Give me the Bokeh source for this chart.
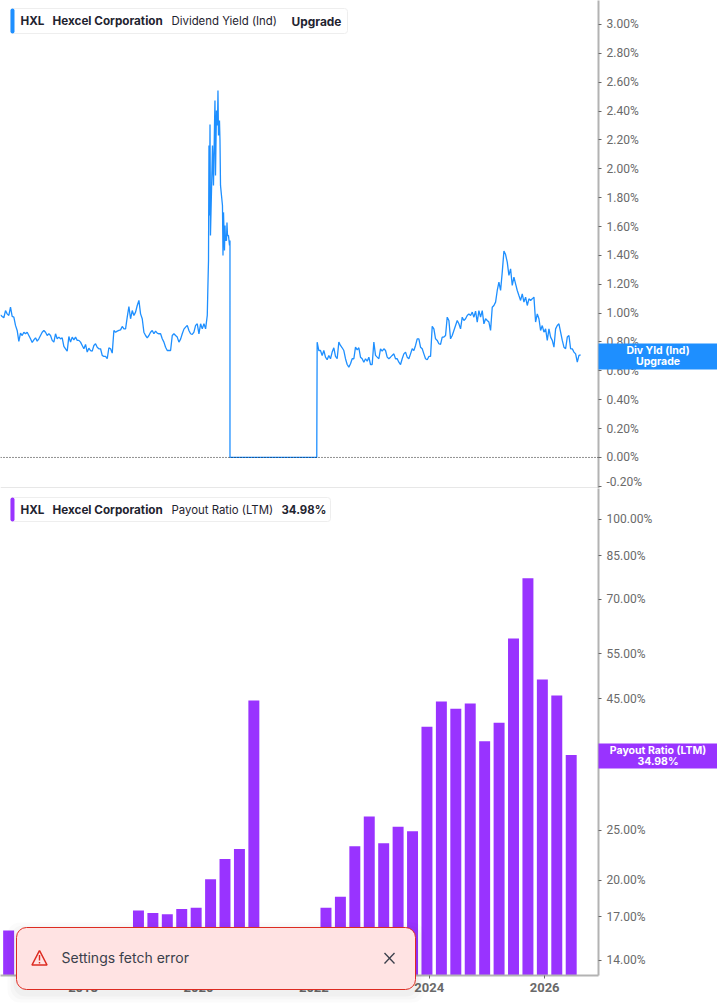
from bokeh.embed import file_html
from bokeh.layouts import column
from bokeh.models import BoxAnnotation, FixedTicker, Label, LinearAxis, LogAxis, PolyAnnotation, PrintfTickFormatter, Range1d, Span
from bokeh.plotting import figure
from bokeh.resources import INLINE
import numpy as np

# dividend yield (%), about every 10 days
yield_start = 2016.569
yield_step = 0.0289
yield_before = [
    0.988, 0.977, 0.968, 1.018, 0.995, 0.984, 1.042, 0.977, 0.972, 0.915, 0.880, 0.804, 0.861, 0.845, 0.868, 0.857,
    0.868, 0.845, 0.822, 0.797, 0.815, 0.829, 0.806, 0.822, 0.845, 0.868, 0.880, 0.868, 0.845, 0.857, 0.845, 0.811,
    0.799, 0.857, 0.822, 0.834, 0.822, 0.829, 0.769, 0.753, 0.737, 0.838, 0.799, 0.834, 0.815, 0.834, 0.811, 0.811,
    0.799, 0.776, 0.753, 0.783, 0.730, 0.757, 0.741, 0.737, 0.776, 0.788, 0.764, 0.753, 0.753, 0.707, 0.700, 0.700,
    0.684, 0.760, 0.753, 0.723, 0.880, 0.868, 0.875, 0.880, 0.884, 0.908, 0.891, 0.891, 0.972, 1.046, 0.961, 1.018,
    0.984, 1.007, 1.053, 1.088, 0.995, 0.961, 0.868, 0.845, 0.829, 0.845, 0.868, 0.880, 0.857, 0.875, 0.861, 0.857,
    0.857, 0.822, 0.799, 0.764, 0.741, 0.741, 0.741, 0.845, 0.857, 0.845, 0.834, 0.799, 0.820, 0.857, 0.889, 0.903,
    0.915, 0.880, 0.857, 0.852, 0.868, 0.915, 0.926, 0.857, 0.926, 0.891, 0.926, 0.891, 0.984,
]
# 2020 spike, then the stretch with no dividend
spike_years = [
    2020.162, 2020.174, 2020.182, 2020.191, 2020.200, 2020.208, 2020.226, 2020.243, 2020.260, 2020.278, 2020.286,
    2020.295, 2020.312, 2020.330, 2020.338, 2020.347, 2020.364, 2020.373, 2020.382, 2020.399, 2020.416, 2020.425,
    2020.434, 2020.451, 2020.460, 2020.468, 2020.486, 2020.494, 2020.503, 2020.520, 2020.538, 2020.546, 2020.546,
    2022.050,
]
spike_values = [
    1.157, 1.365, 2.162, 1.677, 2.307, 1.538, 1.850, 2.162, 1.885, 2.300, 2.473,
    1.954, 2.404, 2.300, 2.543, 2.231, 2.335, 2.196, 1.885, 1.815, 1.746, 1.400,
    1.698, 1.434, 1.607, 1.504, 1.504, 1.628, 1.538, 1.538, 1.469, 1.504, 0.0,
    0.0,
]
yield_after_start = 2022.057
yield_after = [
    0.799, 0.741, 0.741, 0.707, 0.741, 0.695, 0.677, 0.707, 0.684, 0.730, 0.760, 0.700, 0.684, 0.799, 0.776, 0.760,
    0.741, 0.684, 0.644, 0.626, 0.649, 0.684, 0.684, 0.764, 0.746, 0.760, 0.695, 0.684, 0.660, 0.684, 0.667, 0.695,
    0.644, 0.644, 0.799, 0.707, 0.695, 0.684, 0.753, 0.737, 0.753, 0.741, 0.695, 0.684, 0.695, 0.707, 0.718, 0.684,
    0.684, 0.660, 0.644, 0.684, 0.718, 0.730, 0.695, 0.684, 0.718, 0.753, 0.741, 0.776, 0.822, 0.822, 0.764, 0.753,
    0.718, 0.684, 0.677, 0.700, 0.700, 0.908, 0.891, 0.822, 0.811, 0.788,
    0.783, 0.834, 0.834, 0.845, 0.972, 0.949, 0.822, 0.845, 0.880, 0.914, 0.949, 0.926, 0.891, 0.972, 0.949, 0.961,
    0.984, 0.995, 0.984, 1.007, 0.972, 1.014, 0.938, 1.018, 0.972, 1.018, 0.926, 0.961, 0.949, 0.938, 0.880, 1.041,
    1.053, 1.076, 1.157, 1.215, 1.157, 1.284, 1.430, 1.406, 1.353, 1.261, 1.307, 1.192, 1.249, 1.203, 1.157, 1.122,
    1.088, 1.134, 1.076, 1.111, 1.053, 1.099, 1.088, 1.099, 1.111, 0.938, 0.995, 0.961, 0.880, 0.914, 0.868, 0.891,
    0.811, 0.891, 0.834, 0.811, 0.764, 0.891, 0.914, 0.926, 0.868, 0.811, 0.764, 0.753, 0.834, 0.845, 0.753, 0.753,
    0.730, 0.718, 0.660, 0.707, 0.711,
]

# payout ratio (%), quarterly
payout_years = [
    2016.71, 2018.96, 2019.21, 2019.46, 2019.71, 2019.96, 2020.21, 2020.46, 2020.71, 2020.96,
    2022.21, 2022.46, 2022.71, 2022.96, 2023.21, 2023.46, 2023.71, 2023.96, 2024.21, 2024.46,
    2024.71, 2024.96, 2025.21, 2025.46, 2025.71, 2025.96, 2026.21, 2026.46,
]
payout_values = [
    16.0, 17.5, 17.3, 17.2, 17.6, 17.7, 20.1, 22.0, 23.0, 44.6,
    17.7, 18.6, 23.3, 26.6, 23.6, 25.4, 24.9, 39.7, 44.4, 43.0,
    44.0, 37.2, 40.4, 58.8, 76.9, 49.0, 45.6, 34.98,
]

yield_ticks = [-0.2, 0.0, 0.2, 0.4, 0.6, 0.8, 1.0, 1.2, 1.4, 1.6, 1.8, 2.0, 2.2, 2.4, 2.6, 2.8, 3.0]
payout_ticks = [14, 17, 20, 25, 45, 55, 70, 85, 100]
year_ticks = [2018, 2020, 2022, 2024, 2026]

BLUE = "#1e8fff"
PURPLE = "#9933ff"
AXIS_GREY = "#b3b3b3"
TICK_TEXT = "#6a6a6a"
DARK = "#1f2430"
TOAST = "#ffe3e3"
TOAST_RED = "#dd2c22"
X_RANGE = (2016.569, 2026.933)


def style_axis(ax):
    ax.axis_line_color = AXIS_GREY
    ax.axis_line_width = 2
    ax.major_tick_line_color = "#666666"
    ax.major_tick_out = 3
    ax.major_tick_in = 0
    ax.minor_tick_line_color = None
    ax.major_label_text_color = TICK_TEXT
    ax.major_label_text_font = "Roboto"
    ax.major_label_text_font_size = "12px"
    ax.major_label_standoff = 5


def text(p, x, y, s, color=DARK, style="bold", size="11.7px", font="Inter", align="left"):
    p.add_layout(Label(x=x, y=y, x_units="canvas", y_units="canvas", text=s, text_color=color,
                       text_font=font, text_font_style=style, text_font_size=size,
                       text_align=align, text_baseline="middle", level="annotation"))


def box(p, left, right, top, bottom, fill, line=None, radius=0, alpha=1.0):
    p.add_layout(BoxAnnotation(left=left, right=right, top=top, bottom=bottom,
                               left_units="canvas", right_units="canvas", top_units="canvas", bottom_units="canvas",
                               fill_color=fill, fill_alpha=alpha, line_color=line, line_alpha=1.0 if line else 0,
                               border_radius=radius, level="annotation"))


def stroke(p, xs, ys, color, width):
    p.add_layout(PolyAnnotation(xs=xs, ys=ys, xs_units="canvas", ys_units="canvas", fill_alpha=0,
                                line_color=color, line_alpha=1.0, line_width=width, level="annotation"))


def legend(p, left, right, top, bottom, accent, items):
    box(p, left, right, top, bottom, "white", "#eeeeee", 3)
    box(p, left, left + 4, top, bottom, accent, None, 2)
    mid = (top + bottom) / 2
    for x, s, style, size in items:
        text(p, x, mid, s, style=style, size=size)


def tag(p, top, bottom, fill, lines):
    box(p, 598, 717, top, bottom, fill)
    mid = (top + bottom) / 2
    text(p, 657.5, mid - 6, lines[0], color="white", size="10.5px", align="center")
    text(p, 657.5, mid + 5, lines[1], color="white", size="10.5px", align="center")


# top panel
top = figure(width=717, height=488, output_backend="svg", toolbar_location=None, tools="",
             x_range=Range1d(*X_RANGE), y_range=Range1d(-0.215, 3.166),
             x_axis_location=None, y_axis_location=None,
             min_border_left=0, min_border_top=0, min_border_bottom=0, min_border_right=119)
top.grid.visible = False
top.outline_line_color = None

right_top = LinearAxis(ticker=FixedTicker(ticks=yield_ticks), formatter=PrintfTickFormatter(format="%.2f%%"))
style_axis(right_top)
top.add_layout(right_top, "right")

top.add_layout(Span(location=0, dimension="width", line_color="#222222", line_width=1, line_dash="1 2"))
top.add_layout(Span(location=-0.215, dimension="width", line_color="#d0d0d0", line_width=2))

before_x = yield_start + np.arange(len(yield_before)) * yield_step
after_x = yield_after_start + np.arange(len(yield_after)) * yield_step
line_x = np.concatenate([before_x, spike_years, after_x])
line_y = np.concatenate([yield_before, spike_values, yield_after])
top.line(line_x, line_y, line_color=BLUE, line_width=1.3)

# bottom panel
bottom = figure(width=717, height=517, output_backend="svg", toolbar_location=None, tools="",
                x_range=Range1d(*X_RANGE), y_range=Range1d(13.09, 114.8), y_axis_type="log",
                x_axis_location="below", y_axis_location=None,
                min_border_left=0, min_border_top=0, min_border_bottom=30, min_border_right=119)
bottom.grid.visible = False
bottom.outline_line_color = None

style_axis(bottom.xaxis[0])
bottom.xaxis.ticker = FixedTicker(ticks=year_ticks)
bottom.xaxis.major_label_text_font_style = "bold"
bottom.xaxis.major_label_text_font_size = "13px"
bottom.xaxis.major_label_standoff = 4

right_bottom = LogAxis(ticker=FixedTicker(ticks=payout_ticks), formatter=PrintfTickFormatter(format="%.2f%%"))
style_axis(right_bottom)
bottom.add_layout(right_bottom, "right")

bottom.vbar(x=payout_years, top=payout_values, bottom=13.09, width=0.19, fill_color=PURPLE, line_color=None)

# annotations get clipped to a plot's frame, so legends, tags and the toast
# sit on a transparent figure laid over the whole page (canvas = page pixels)
over = figure(width=717, height=1005, frame_width=717, frame_height=1005, output_backend="svg",
              toolbar_location=None, tools="",
              x_range=Range1d(0, 717), y_range=Range1d(1005, 0),
              x_axis_location=None, y_axis_location=None,
              min_border_left=0, min_border_top=0, min_border_bottom=0, min_border_right=0,
              background_fill_alpha=0, border_fill_alpha=0,
              styles={"position": "absolute", "left": "0", "top": "0", "width": "717px", "z-index": "10"})
over.grid.visible = False
over.outline_line_color = None

legend(over, 10, 347, 8, 33, BLUE, [
    (20, "HXL", "bold", "11.7px"), (52, "Hexcel Corporation", "bold", "11.7px"),
    (171, "Dividend Yield (Ind)", "normal", "11.4px"), (291, "Upgrade", "bold", "11.9px"),
])
tag(over, 343, 369, BLUE, ["Div Yld (Ind)", "Upgrade"])

legend(over, 10, 330, 497, 521, PURPLE, [
    (20, "HXL", "bold", "11.7px"), (52, "Hexcel Corporation", "bold", "11.7px"),
    (171, "Payout Ratio (LTM)", "normal", "11.4px"), (281, "34.98%", "bold", "11.4px"),
])
tag(over, 743, 768, PURPLE, ["Payout Ratio (LTM)", "34.98%"])

for grow, a in [(9, 0.015), (6, 0.02), (3, 0.025)]:
    box(over, 16 - grow, 415 + grow, 927 - grow + 4, 989 + grow + 4, "#000000", None, 12, a)
box(over, 16, 415, 927, 989, TOAST, TOAST_RED, 10)
text(over, 61, 957, "Settings fetch error", color="#3a3f4b", style="normal", size="14px")
stroke(over, [39, 31.5, 46.5], [950, 964.5, 964.5], TOAST_RED, 1.6)
stroke(over, [39, 39], [954.5, 960], TOAST_RED, 1.4)
stroke(over, [39, 39], [961.5, 963], TOAST_RED, 1.4)
stroke(over, [384, 394], [952.5, 963], "#3a3f4b", 1.3)
stroke(over, [394, 384], [952.5, 963], "#3a3f4b", 1.3)

page = column(top, bottom, over, spacing=0, styles={"position": "absolute", "left": "0", "top": "0"})

open("out.html", "w").write(file_html(page, INLINE))
